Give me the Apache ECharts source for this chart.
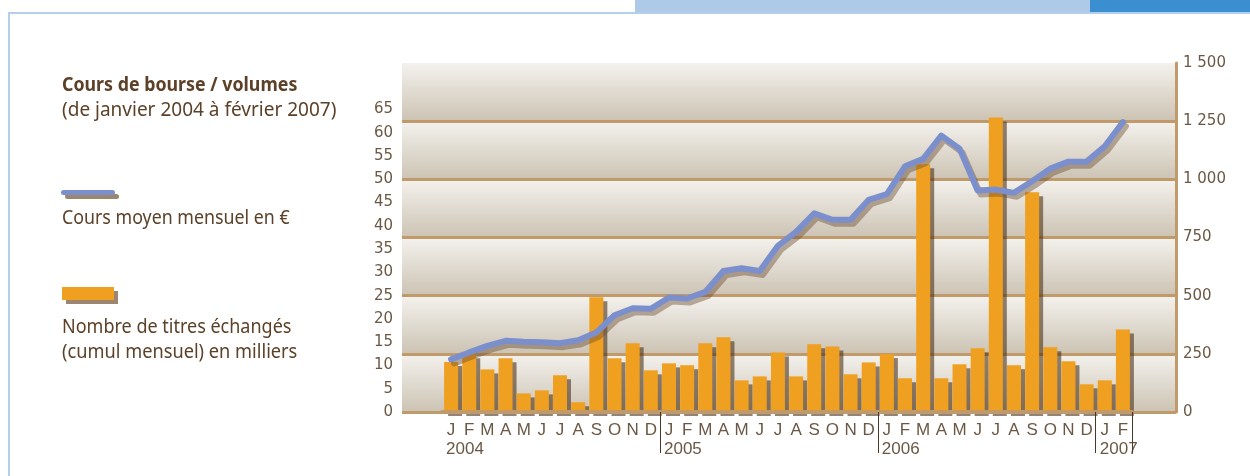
<!DOCTYPE html>
<html>
<head>
<meta charset="utf-8">
<title>Cours de bourse / volumes</title>
<script src="https://cdn.jsdelivr.net/npm/echarts@6.0.0/dist/echarts.min.js"></script>
<style>
html, body { margin: 0; padding: 0; background: #fff; }
#chart { width: 1250px; height: 476px; }
</style>
</head>
<body>
<div id="chart"></div>
<script>
// mois de janvier 2004 a fevrier 2007
var months = ['J','F','M','A','M','J','J','A','S','O','N','D',
              'J','F','M','A','M','J','J','A','S','O','N','D',
              'J','F','M','A','M','J','J','A','S','O','N','D',
              'J','F'];
var years = ['2004', '2005', '2006', '2007'];
// nombre de titres echanges (milliers)
var volumes = [215, 248, 183, 231, 80, 93, 158, 42, 493, 231, 295, 179,
               209, 201, 295, 321, 136, 153, 256, 153, 291, 282, 162, 213,
               249, 145, 1065, 145, 205, 274, 1266, 201, 944, 278, 218, 119,
               136, 355];
// cours moyen mensuel en euros
var prices = [11.3, 12.8, 14.2, 15.3, 15.1, 15.0, 14.8, 15.4, 17.1, 20.8, 22.3, 22.2,
              24.6, 24.4, 25.8, 30.3, 30.9, 30.3, 35.7, 38.7, 42.7, 41.3, 41.3, 45.6,
              46.8, 52.8, 54.4, 59.4, 56.6, 47.6, 47.8, 47.1, 49.6, 52.3, 53.8, 53.8,
              57.1, 62.3];

var brown = '#5c4128';
var axisText = '#6b5844';
var tan = '#c09a6a';
var textFont = '"Noto Sans", sans-serif';

// texte un peu etroit comme dans l'original
function label(text, x, y, bold, sx) {
    return {
        type: 'text',
        x: x,
        y: y,
        scaleX: sx,
        style: {
            text: text,
            font: (bold ? 'bold ' : '') + '20px ' + textFont,
            fill: brown,
            verticalAlign: 'middle'
        }
    };
}

var chart = echarts.init(document.getElementById('chart'));

var option = {
    backgroundColor: '#ffffff',
    animation: false,
    graphic: [
        // bandeaux et cadre
        { type: 'rect', shape: { x: 635, y: 0, width: 455, height: 13 }, style: { fill: '#aecae8' } },
        { type: 'rect', shape: { x: 1090, y: 0, width: 160, height: 12 }, style: { fill: '#3b8fd0' } },
        { type: 'rect', shape: { x: 8, y: 12, width: 1242, height: 2 }, style: { fill: '#b4cfee' } },
        { type: 'rect', shape: { x: 8, y: 12, width: 2, height: 464 }, style: { fill: '#b4cfee' } },
        // titre
        label('Cours de bourse / volumes', 62, 85, true, 0.89),
        label('(de janvier 2004 à février 2007)', 62, 110, false, 0.95),
        // legende
        { type: 'rect', shape: { x: 65, y: 194, width: 54, height: 5, r: 2.5 }, style: { fill: '#9c8670' } },
        { type: 'rect', shape: { x: 61, y: 190, width: 54, height: 5, r: 2.5 }, style: { fill: '#7b8fcc' } },
        label('Cours moyen mensuel en €', 62, 218, false, 0.89),
        { type: 'rect', shape: { x: 66, y: 291, width: 52, height: 13 }, style: { fill: '#9c8670' } },
        { type: 'rect', shape: { x: 62, y: 287, width: 52, height: 13 }, style: { fill: '#f0a020' } },
        label('Nombre de titres échangés', 62, 327, false, 0.9),
        label('(cumul mensuel) en milliers', 62, 352, false, 0.91)
    ],
    grid: [
        { left: 402, right: 74, top: 63, bottom: 64 },   // fond
        { left: 442, right: 118, top: 63, bottom: 64 },  // donnees
        { left: 437, right: 123, top: 63, bottom: 64 }   // annees
    ],
    xAxis: [
        { gridIndex: 0, type: 'category', data: [''], show: false },
        {
            gridIndex: 1,
            type: 'category',
            data: months,
            boundaryGap: true,
            offset: 2,
            z: 5,
            axisLine: { show: true, lineStyle: { color: tan, width: 4 } },
            axisTick: {
                show: true,
                length: 41,
                interval: function (index) { return index > 0 && index % 12 === 0; },
                lineStyle: { color: '#4a3826', width: 1 }
            },
            axisLabel: {
                interval: 0,
                margin: 8,
                color: axisText,
                fontFamily: '"Liberation Sans", Arial, sans-serif',
                fontSize: 17
            }
        },
        {
            gridIndex: 2,
            type: 'category',
            data: months,
            boundaryGap: true,
            axisLine: { show: false },
            axisTick: { show: false },
            axisLabel: {
                interval: 0,
                margin: 29,
                align: 'left',
                color: axisText,
                fontFamily: '"Liberation Sans", Arial, sans-serif',
                fontSize: 17,
                formatter: function (value, index) {
                    return index % 12 === 0 ? years[index / 12] : '';
                }
            }
        }
    ],
    yAxis: [
        {
            gridIndex: 0,
            type: 'value',
            position: 'left',
            min: 0,
            max: 75,
            interval: 5,
            axisLine: { show: false },
            axisTick: { show: false },
            splitLine: { show: false },
            axisLabel: {
                margin: 9,
                color: axisText,
                fontFamily: '"DejaVu Sans", sans-serif',
                fontSize: 15,
                formatter: function (v) { return v > 65 ? '' : v; }
            }
        },
        {
            gridIndex: 0,
            type: 'value',
            position: 'right',
            min: 0,
            max: 1500,
            interval: 250,
            axisLine: { show: true, lineStyle: { color: tan, width: 3 } },
            axisTick: { show: false },
            axisLabel: {
                margin: 7,
                color: axisText,
                fontFamily: '"DejaVu Sans", sans-serif',
                fontSize: 15,
                formatter: function (v) {
                    if (v >= 1000) {
                        var r = String(v % 1000);
                        while (r.length < 3) r = '0' + r;
                        return Math.floor(v / 1000) + ' ' + r;
                    }
                    return String(v);
                }
            },
            splitLine: { show: true, showMaxLine: false, lineStyle: { color: tan, width: 3 } },
            splitArea: {
                show: true,
                areaStyle: {
                    color: [new echarts.graphic.LinearGradient(0, 0, 0, 1, [
                        { offset: 0, color: '#f4f2ee' },
                        { offset: 1, color: '#ccc3b3' }
                    ])]
                }
            }
        },
        { gridIndex: 1, type: 'value', min: 0, max: 1500, show: false, splitLine: { show: false } },
        { gridIndex: 1, type: 'value', min: 0, max: 75, show: false, splitLine: { show: false } },
        { gridIndex: 2, type: 'value', show: false, splitLine: { show: false } }
    ],
    series: [
        {
            name: 'Nombre de titres échangés',
            type: 'bar',
            xAxisIndex: 1,
            yAxisIndex: 2,
            data: volumes,
            barWidth: 14,
            itemStyle: {
                color: '#f0a020',
                shadowColor: 'rgba(75, 50, 25, 0.6)',
                shadowOffsetX: 4,
                shadowOffsetY: 4,
                shadowBlur: 0
            }
        },
        {
            name: 'Cours moyen mensuel en €',
            type: 'line',
            xAxisIndex: 1,
            yAxisIndex: 3,
            data: prices,
            symbol: 'none',
            lineStyle: {
                color: '#7b8fcc',
                width: 6,
                cap: 'round',
                join: 'round',
                shadowColor: 'rgba(110, 80, 50, 0.45)',
                shadowOffsetX: 3,
                shadowOffsetY: 4,
                shadowBlur: 0
            }
        }
    ]
};

option && chart.setOption(option);
</script>
</body>
</html>
